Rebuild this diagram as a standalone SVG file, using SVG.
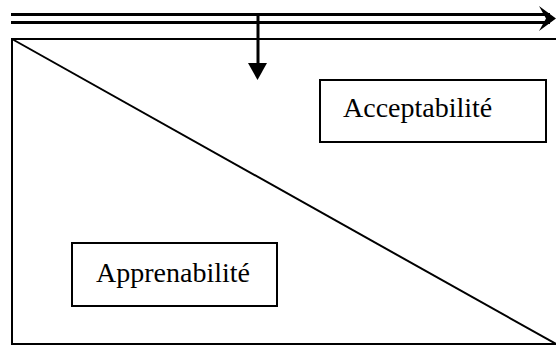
<svg xmlns="http://www.w3.org/2000/svg" width="556" height="347" viewBox="0 0 556 347">
<style>
.ln{stroke:#000;fill:none}
.box{fill:#fff;stroke:#000;stroke-width:2}
.lbl{font-family:"Liberation Serif","Times New Roman",serif;font-size:28px;fill:#000}
</style>
<rect width="556" height="347" fill="#fff"/>
<g id="connectors">
<line class="ln" x1="11" y1="14.5" x2="550" y2="14.5" stroke-width="3"/>
<line class="ln" x1="11" y1="22.5" x2="550" y2="22.5" stroke-width="3"/>
<polygon points="539,6 556,18.5 539,31 546,18.5" fill="#000"/>
<line class="ln" x1="258" y1="14" x2="258" y2="66" stroke-width="3"/>
<polygon points="248,63 267,63 257.5,80" fill="#000"/>
</g>
<g id="frame">
<rect x="12" y="39" width="560" height="305" class="ln" stroke-width="2"/>
<line class="ln" x1="12" y1="39" x2="556" y2="344" stroke-width="2"/>
</g>
<g id="acceptabilite">
<rect x="320" y="80" width="226" height="62" class="box"/>
<text x="343" y="117" class="lbl">Acceptabilité</text>
</g>
<g id="apprenabilite">
<rect x="72" y="243" width="205" height="63" class="box"/>
<text x="96" y="282" class="lbl">Apprenabilité</text>
</g>
</svg>
